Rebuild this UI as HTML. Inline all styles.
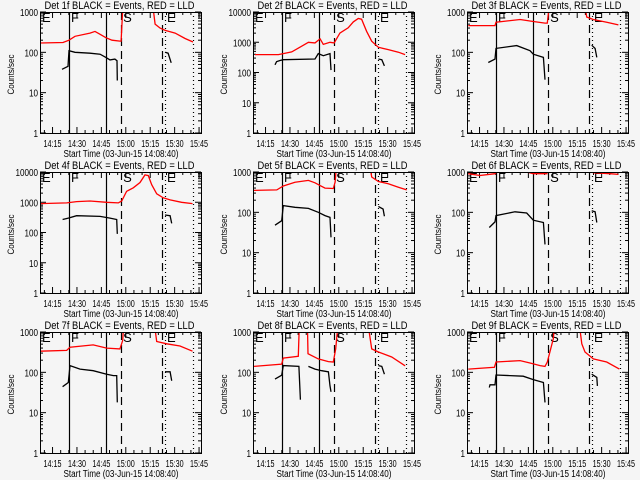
<!DOCTYPE html>
<html><head><meta charset="utf-8"><style>
body{margin:0;background:#f5f5f5;}
svg{display:block;font-family:"Liberation Sans",sans-serif;}
</style></head><body>
<svg id="chart" width="640" height="480" viewBox="0 0 640 480">
<rect width="640" height="480" fill="#f5f5f5"/>
</svg>
<script>
// time in minutes after 14:00
const detectorNames = ["1f","2f","3f","4f","5f","6f","7f","8f","9f"];
const yTopDecade = [3,4,3,4,3,3,3,3,3];
const xTickTimes = [15,30,45,60,75,90,105];
const xTickLabels = ["14:15","14:30","14:45","15:00","15:15","15:30","15:45"];
const markerTimes = [25.1,47.8,57.1,82.2,84.1,101.3];
const markerStyles = ["solid","solid","dashed","dashed","dotted","dotted"];
const markerLabels = ["E","F","S","E"];

const red1T=[7.3,21.4,25.1,28.8,38,41.1,44.2,47.8,51.5,56.4,57.1,58.9,74.9,78,81.1,84.2,90.3,96.4,101.3];
const red1V=[170,175,200,250,300,330,280,230,200,190,190,5000,5000,500,400,350,300,220,180];
const blk1T=[20.8,24.5,25.1,28.8,38,44.2,47.8,50.3,53.3,54.6,54.8,null,84.2,86,87.9];
const blk1V=[38,45,110,100,95,90,75,65,68,62,20,null,100,95,55];

const red2T=[8.5,22.9,25.9,31.1,37.2,41.3,45.4,48.5,50.5,54.6,57.2,60.7,65.8,68.9,72,74,77.1,80.2,84.3,90.4,96.6,100.7];
const red2V=[390,390,420,480,740,1000,950,1300,850,1000,950,2000,3000,4700,6100,5800,2300,1080,680,570,470,390];
const blk2T=[20.8,21.8,23.9,25.9,45.4,47.4,50.5,54.6,55.2,null,84.3,86.4,88];
const blk2V=[180,230,250,265,280,420,360,420,120,null,280,265,165];

const red3T=[8.1,24.5,25.1,39.9,48,55.2,56.6,59.3,77.8,80.8,84.9,93.1,100.3];
const red3V=[460,460,560,650,580,530,530,5000,5000,750,650,560,480];
const blk3T=[20.4,24.5,25.1,37.8,46,48,54.2,55.2,null,83.9,86,87];
const blk3V=[56,68,125,147,110,90,75,21,null,150,125,75];

const red4T=[7.3,23.7,29.8,38,48.3,55.4,57.5,60.5,64.6,68.7,71.8,73.8,75.9,79,83,87.2,94.3,101];
const red4V=[900,950,1050,1100,1000,950,1100,2300,3000,4500,8000,7600,3800,1900,1400,1200,1000,900];
const blk4T=[21.2,24.7,29.8,44.2,50.3,54.4,54.8,null,84.1,87.2,88.2];
const blk4V=[270,300,360,340,300,270,90,null,380,360,200];

const red5T=[7.5,21.9,25.9,33.1,41.3,45.4,48.5,51.5,56.6,57.7,59.7,77.1,80.2,84.3,90.4,96.6,101.7];
const red5V=[350,360,450,560,620,540,460,400,390,560,5000,5000,750,580,510,420,360];
const blk5T=[20.8,24.9,25.9,33.1,41.3,47.4,51.5,54.6,55.2,null,84.3,87.2,88];
const blk5V=[48,62,147,133,125,100,83,75,24,null,140,120,80];

const red6T=[8.1,15.3,24.5,25.5,44,48,56.3,57.3,80.8,84.9,95.1,100.3];
const red6V=[910,820,910,1000,1000,910,910,5000,5000,960,910,870];
const blk6T=[21,24.5,25.1,36.8,44,48,54.2,55.2,null,83.9,86,87];
const blk6V=[42,58,83,103,96,64,56,16,null,110,103,56];

const red7T=[7.3,23.7,25.7,40,48.3,56.4,58.1,59.5,75.9,79,85.1,93.3,101];
const red7V=[335,350,420,480,400,380,620,5000,5000,580,510,450,335];
const blk7T=[21.2,24.7,25.7,31.9,40,48.3,52.4,54.4,54.8,null,84.1,87.2,88.2];
const blk7V=[44,56,147,120,110,90,83,83,18,null,103,103,62];

const red8T=[7.5,24.9,25.9,35.1,36.2,40.5,41.1,47.4,53.6,56.6,58.1,60.7,76.1,80.2,84.3,92.5,100.7];
const red8V=[140,160,225,250,5000,5000,290,215,185,180,380,5000,5000,380,320,240,145];
const blk8T=[20.8,24.9,25.9,35.5,36.4,null,41.3,45.4,49.5,53.6,54.6,55.2,null,84.3,86.4,88];
const blk8V=[68,85,147,140,21,null,140,120,110,103,46,33,null,147,140,90];

const red9T=[8.1,24.1,25.1,39.9,46,52.2,55.2,56.6,60.3,62.3,74.7,77.8,79.8,84.9,93.1,100.9];
const red9V=[120,133,180,195,170,147,140,180,680,5000,5000,510,320,215,180,120];
const blk9T=[21,21.4,24.5,25.1,33.6,41.8,48,54.2,55.2,null,83.9,87,87.4];
const blk9V=[42,49,49,86,83,80,66,56,18,null,90,75,46];

const redT=[red1T,red2T,red3T,red4T,red5T,red6T,red7T,red8T,red9T];
const redV=[red1V,red2V,red3V,red4V,red5V,red6V,red7V,red8V,red9V];
const blkT=[blk1T,blk2T,blk3T,blk4T,blk5T,blk6T,blk7T,blk8T,blk9T];
const blkV=[blk1V,blk2V,blk3V,blk4V,blk5V,blk6V,blk7V,blk8V,blk9V];

const svg=document.getElementById('chart');
const NS="http://www.w3.org/2000/svg";
function mk(tag,attrs,parent){const e=document.createElementNS(NS,tag);for(const k in attrs)e.setAttribute(k,attrs[k]);parent.appendChild(e);return e;}

const colX=[40,253,467], rowY=[12,172,332], BW=161, BH=121, T0=7.3, PXM=1.628;

for(let p=0;p<9;p++){
  const bx=colX[p%3], by=rowY[Math.floor(p/3)];
  const top=yTopDecade[p];
  const g=mk('g',{},svg);
  
  
  const xs=t=>bx+(t-T0)*PXM;
  const ys=v=>by+BH-(Math.log10(v)/top)*BH;
  const cid='clip'+p;
  const cp=mk('clipPath',{id:cid},g); mk('rect',{x:bx,y:by,width:BW,height:BH},cp);
  const ti=mk('text',{x:bx+BW/2-76,y:by-3,'font-size':'11',textLength:'150',lengthAdjust:'spacingAndGlyphs'},g);
  ti.textContent='Det '+detectorNames[p]+' BLACK = Events, RED = LLD';
  
  
  const yt=mk('text',{x:-20,y:0,'font-size':'9',textLength:'40',lengthAdjust:'spacingAndGlyphs',transform:'translate('+(bx-26)+','+(by+BH/2+2)+') rotate(-90)'},g);
  yt.textContent='Counts/sec';
  
  
  for(let d=0;d<=top;d++){
    const y=ys(Math.pow(10,d));
    mk('line',{x1:bx,x2:bx+6,y1:y,y2:y,stroke:'#000'},g);
    mk('line',{x1:bx+BW-6,x2:bx+BW,y1:y,y2:y,stroke:'#000'},g);
    const s=String(Math.pow(10,d));
    const lb=mk('text',{x:bx-2-s.length*4.5,y:y+4,'font-size':'10',textLength:String(s.length*4.5),lengthAdjust:'spacingAndGlyphs'},g);
    lb.textContent=s;
    
    
    if(d<top){for(let m=2;m<10;m++){const ym=ys(m*Math.pow(10,d));
      mk('line',{x1:bx,x2:bx+3,y1:ym,y2:ym,stroke:'#000'},g);
      mk('line',{x1:bx+BW-3,x2:bx+BW,y1:ym,y2:ym,stroke:'#000'},g);}}
  }
  xTickTimes.forEach((t,i)=>{
    const x=xs(t);
    mk('line',{x1:x,x2:x,y1:by+BH,y2:by+BH-6,stroke:'#000'},g);
    mk('line',{x1:x,x2:x,y1:by,y2:by+6,stroke:'#000'},g);
    const lb=mk('text',{x:x-9,y:by+BH+14,'font-size':'10',textLength:'18',lengthAdjust:'spacingAndGlyphs'},g);
    lb.textContent=xTickLabels[i];
    
    
    for(let m=1;m<3;m++){const xm=xs(t-5*m); if(xm>bx){
      mk('line',{x1:xm,x2:xm,y1:by+BH,y2:by+BH-3,stroke:'#000'},g);
      mk('line',{x1:xm,x2:xm,y1:by,y2:by+3,stroke:'#000'},g);}}
  });
  const xt=mk('text',{x:bx+BW/2-57,y:by+BH+24,'font-size':'10',textLength:'115',lengthAdjust:'spacingAndGlyphs'},g);
  xt.textContent='Start Time (03-Jun-15 14:08:40)';
  
  
  markerTimes.forEach((t,i)=>{
    const x=Math.round(xs(t))+0.5;
    const a={x1:x,x2:x,y1:by,y2:by+BH,stroke:'#000','stroke-width':1.2};
    if(markerStyles[i]==='dashed')a['stroke-dasharray']='8,5';
    if(markerStyles[i]==='dotted')a['stroke-dasharray']='1,3';
    const ln=mk('line',a,g);
    
    
  });
  const lblX=[bx+2,xs(markerTimes[0])+2,xs(markerTimes[2])+2,xs(markerTimes[4])+2];
  markerLabels.forEach((s,i)=>{
    const lt=mk('text',{x:lblX[i],y:by+10,'font-size':'13','clip-path':'url(#'+cid+')'},g);
    lt.textContent=s;
    
    
  });
  function path(T,V){let d='',pen=false;for(let i=0;i<T.length;i++){if(T[i]===null){pen=false;continue;}
    d+=(pen?'L':'M')+xs(T[i]).toFixed(1)+','+ys(V[i]).toFixed(1);pen=true;}return d;}
  const rp=mk('path',{d:path(redT[p],redV[p]),fill:'none',stroke:'#ff0000','stroke-width':1.3,'clip-path':'url(#'+cid+')'},g);
  
  
  const kp=mk('path',{d:path(blkT[p],blkV[p]),fill:'none',stroke:'#000','stroke-width':1.3,'clip-path':'url(#'+cid+')'},g);
  
  
  const box=mk('rect',{x:bx+0.5,y:by+0.5,width:BW,height:BH,fill:'none',stroke:'#000'},g);
  
  
}
</script>
</body></html>
